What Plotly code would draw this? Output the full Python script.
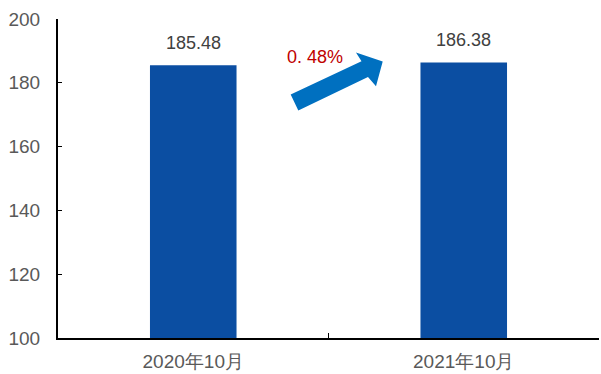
import plotly.graph_objects as go

categories = ["2020年10月", "2021年10月"]
values = [185.48, 186.38]
value_labels = ["185.48", "186.38"]
growth_label = "0. 48%"
y_ticks = [100, 120, 140, 160, 180, 200]

W, H = 601, 374
ML, MR, MT, MB = 58, 2, 19, 34
PW, PH = W - ML - MR, H - MT - MB
FONT = "Liberation Sans, Arial"

def px(x, y):
    return (x - ML) / PW, (H - MB - y) / PH

fig = go.Figure()
fig.add_trace(go.Bar(
    x=categories, y=values, width=0.32,
    marker=dict(color="#0B4EA2", line=dict(width=0)),
))
for c, v, t in zip(categories, values, value_labels):
    fig.add_annotation(x=c, y=v, text=t, showarrow=False, yanchor="bottom", yshift=10,
                       font=dict(family=FONT, size=18, color="#404040"))

# thick arrow polygon (pixel positions converted to paper coords)
pts = [(290.7, 95), (361.5, 61.5), (356, 52.7), (382.7, 61.7), (376, 86.7), (368, 77.5), (298.3, 111)]
path = "M " + " L ".join("%.4f,%.4f" % px(x, y) for x, y in pts) + " Z"
fig.add_shape(type="path", xref="paper", yref="paper", path=path,
              fillcolor="#0070C0", line=dict(width=0))

gx, gy = px(315, 55)
fig.add_annotation(xref="paper", yref="paper", x=gx, y=gy, text=growth_label,
                   showarrow=False, yanchor="middle", yshift=-2,
                   font=dict(family=FONT, size=18, color="#C00000"))

fig.update_layout(
    width=W, height=H,
    margin=dict(l=ML, r=MR, t=MT, b=MB),
    plot_bgcolor="white", paper_bgcolor="white",
    showlegend=False,
    font=dict(family=FONT, size=17, color="#595959"),
)
fig.update_xaxes(showline=True, linecolor="black", linewidth=2, ticks="inside",
                 ticklen=5, tickcolor="black", tickson="boundaries", showgrid=False,
                 tickfont=dict(family=FONT, size=19, color="#595959"), range=[-0.5, 1.5],
                 ticklabelstandoff=5)
fig.update_yaxes(range=[100, 200], tickvals=y_ticks, showline=True, linecolor="black",
                 linewidth=2, ticks="inside", ticklen=4, tickcolor="black",
                 showgrid=False, zeroline=False, tickfont=dict(family=FONT, size=19, color="#595959"),
                 ticklabelstandoff=12)

fig.write_html("out.html")
